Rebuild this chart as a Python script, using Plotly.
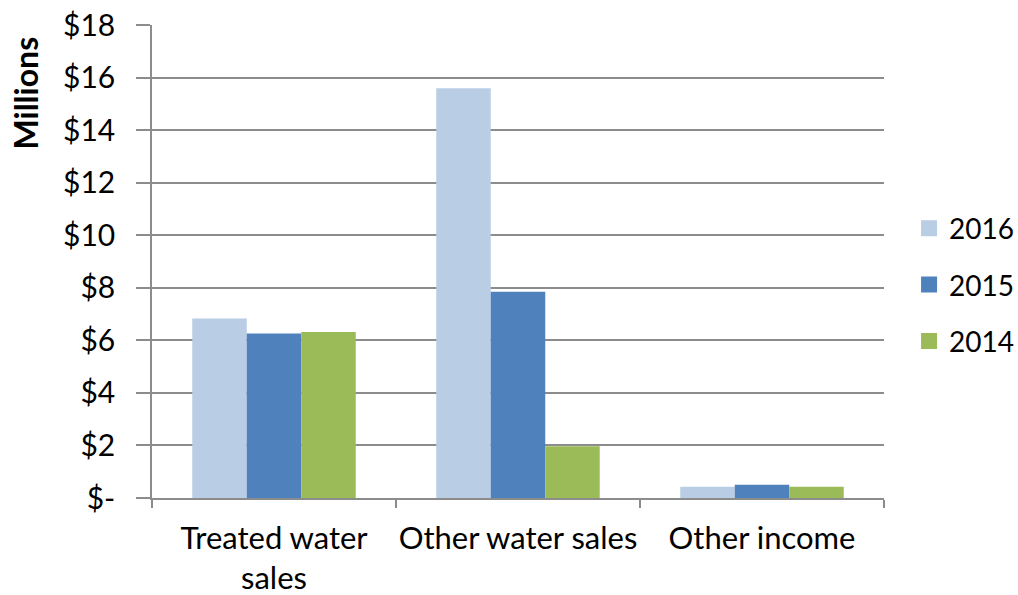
import plotly.graph_objects as go

# Revenue by source, in millions of dollars
categories = ["Treated water<br>sales", "Other water sales", "Other income"]
years = ["2016", "2015", "2014"]
values_2016 = [6.83, 15.59, 0.43]
values_2015 = [6.26, 7.85, 0.50]
values_2014 = [6.32, 1.97, 0.43]
colors = ["#B9CDE5", "#4F81BD", "#9BBB59"]

y_tick_values = [0, 2, 4, 6, 8, 10, 12, 14, 16, 18]
y_tick_labels = ["$-", "$2", "$4", "$6", "$8", "$10", "$12", "$14", "$16", "$18"]

FONT = "Lato, 'Liberation Sans', Arial, sans-serif"
GRID = "#8c8c8c"

fig = go.Figure()
series = [values_2016, values_2015, values_2014]
for name, vals, col in zip(years, series, colors):
    fig.add_trace(go.Bar(
        x=categories, y=vals, name=name,
        marker=dict(color=col, line=dict(width=0)),
        showlegend=False, legendgroup=name,
    ))
    # larger square swatches for the legend
    fig.add_trace(go.Scatter(
        x=[None], y=[None], mode="markers", name=name, legendgroup=name,
        marker=dict(symbol="square", size=16, color=col),
        showlegend=True,
    ))

fig.update_layout(
    width=1018, height=595,
    margin=dict(l=152, r=134, t=25, b=97, autoexpand=False),
    paper_bgcolor="white", plot_bgcolor="white",
    barmode="group", bargap=0.33, bargroupgap=0,
    font=dict(family=FONT, size=28, color="#000000"),
    legend=dict(
        xref="container", yref="container",
        x=0.893, xanchor="left", y=0.521, yanchor="middle",
        font=dict(size=28), tracegroupgap=17,
        bgcolor="rgba(0,0,0,0)", itemsizing="trace",
    ),
    annotations=[dict(
        text="<b>Millions</b>", textangle=-90,
        xref="paper", yref="paper", x=-0.173, y=0.856,
        xanchor="center", yanchor="middle", showarrow=False,
        font=dict(family=FONT, size=32, color="#000000"),
    )],
)

fig.update_yaxes(
    range=[0, 18], tickvals=y_tick_values, ticktext=y_tick_labels,
    showgrid=True, gridcolor=GRID, gridwidth=1.5,
    showline=True, linecolor=GRID, linewidth=1.5,
    ticks="outside", ticklen=14, tickcolor=GRID, tickwidth=1.5,
    ticklabelstandoff=15, zeroline=False, automargin=False,
    tickfont=dict(size=30),
)
fig.update_xaxes(
    showline=True, linecolor=GRID, linewidth=1.5,
    ticks="outside", tickson="boundaries", ticklen=8, tickcolor=GRID, tickwidth=1.5,
    ticklabelstandoff=12, showgrid=False, automargin=False, tickangle=0,
    tickfont=dict(size=31),
)

fig.write_html("out.html")
